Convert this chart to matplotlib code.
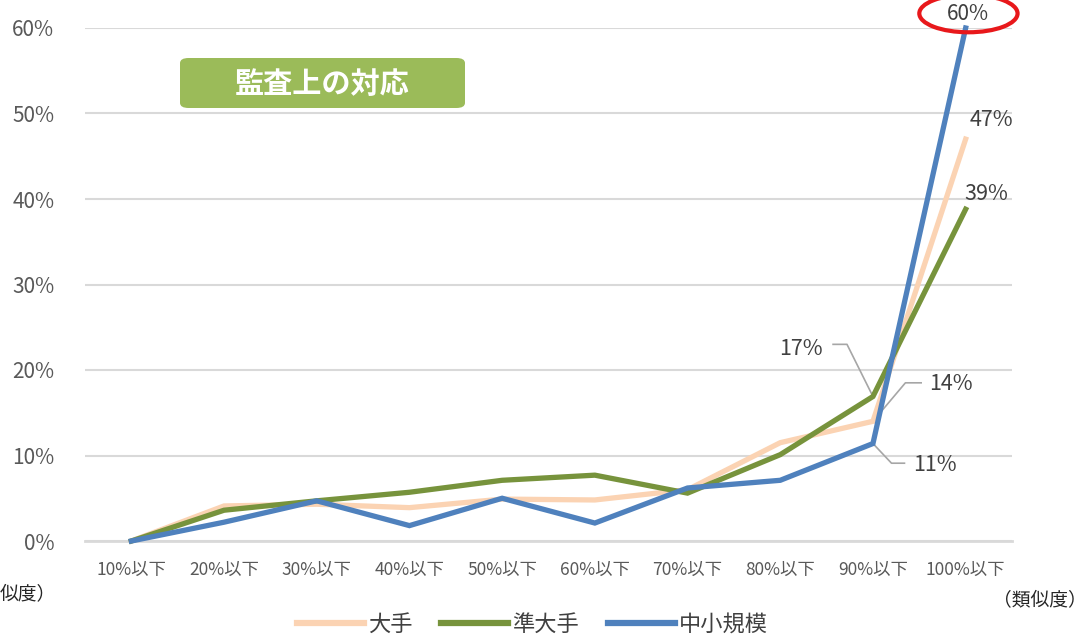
import matplotlib.pyplot as plt
from matplotlib.patches import Ellipse, FancyBboxPatch
from matplotlib.lines import Line2D

plt.rcParams['font.family'] = ['Noto Sans CJK JP', 'DejaVu Sans']

# data
categories = ['10%以下', '20%以下', '30%以下', '40%以下', '50%以下',
              '60%以下', '70%以下', '80%以下', '90%以下', '100%以下']
large = [0.0, 4.1, 4.3, 3.9, 4.9, 4.8, 6.0, 11.5, 14.0, 47.0]       # 大手
semi_large = [0.0, 3.6, 4.7, 5.7, 7.1, 7.7, 5.6, 10.1, 16.9, 38.8]  # 準大手
small_mid = [0.0, 2.2, 4.7, 1.8, 5.0, 2.1, 6.2, 7.1, 11.4, 60.0]    # 中小規模
series_names = ['大手', '準大手', '中小規模']
colors = ['#FBD3B3', '#77933C', '#4F81BD']

W, H = 1087, 636
fig = plt.figure(figsize=(W / 100, H / 100), dpi=100)
ax = fig.add_axes([85 / W, (H - 541) / H, 927 / W, 513 / H])

x = list(range(len(categories)))
for vals, c in zip([large, semi_large, small_mid], colors):
    ax.plot(x, vals, color=c, lw=3.8, solid_joinstyle='miter', clip_on=False, zorder=3)

ax.set_xlim(-0.5, len(categories) - 0.5)
ax.set_ylim(0, 60)
ax.set_yticks(range(0, 61, 10))
ax.set_yticklabels([f'{v}%' for v in range(0, 61, 10)])
ax.set_xticks(x)
ax.set_xticklabels(categories)
ax.grid(axis='y', color='#D9D9D9', lw=1.5)
ax.set_axisbelow(True)
for s in ['top', 'right', 'left']:
    ax.spines[s].set_visible(False)
ax.spines['bottom'].set_color('#D9D9D9')
ax.spines['bottom'].set_linewidth(2)
ax.tick_params(axis='y', length=0, labelsize=15, labelcolor='#595959', pad=22)
ax.tick_params(axis='x', length=0, labelsize=12.5, labelcolor='#595959', pad=14)

# data labels
lab = dict(fontsize=15.5, color='#404040', va='center')
ax.text(9.03, 61.6, '60%', ha='center', fontsize=15, color='#404040', va='center')
ax.text(9.28, 49.2, '47%', ha='center', **lab)
ax.text(9.22, 40.6, '39%', ha='center', **lab)
ax.text(7.22, 22.5, '17%', ha='center', **lab)
ax.text(8.84, 18.4, '14%', ha='center', **lab)
ax.text(8.67, 8.9, '11%', ha='center', **lab)

# leader lines
lc = dict(color='#A6A6A6', lw=1.2, zorder=2)
ax.plot([7.57, 7.72, 8.0], [23.0, 23.0, 16.9], **lc)
ax.plot([8.52, 8.35, 8.0], [18.5, 18.5, 14.0], **lc)
ax.plot([8.34, 8.2, 8.0], [9.1, 9.1, 11.4], **lc)

# red ellipse round the 60% label
ax.add_patch(Ellipse((9.03, 61.7), 1.06, 4.4, fill=False, ec='#E8181B', lw=3,
                     clip_on=False, zorder=5))

# green title box
box = FancyBboxPatch((180 / W, (H - 108) / H), 285 / W, 50 / H,
                     boxstyle='round,pad=0,rounding_size=0.008',
                     transform=fig.transFigure, fc='#9BBB59', ec='none')
fig.patches.append(box)
fig.text(322 / W, (H - 84) / H, '監査上の対応', color='white', fontsize=21,
         fontweight='bold', ha='center', va='center')

# axis captions (left one is cut by the picture edge in the original)
fig.text(0, (H - 594) / H, '似度）', fontsize=13.5, color='#262626',
         ha='left', va='center')
fig.text(1087 / W, (H - 600) / H, '（類似度）', fontsize=13.5, color='#262626',
         ha='right', va='center')

handles = [Line2D([], [], color=c, lw=4.5) for c in colors]
fig.legend(handles, series_names, loc='center', bbox_to_anchor=(0.49, (H - 624) / H),
           ncol=3, frameon=False, fontsize=16, handlelength=3.0, columnspacing=1.3,
           handletextpad=0.2, labelcolor='#404040')

fig.savefig('out.png', dpi=100)
